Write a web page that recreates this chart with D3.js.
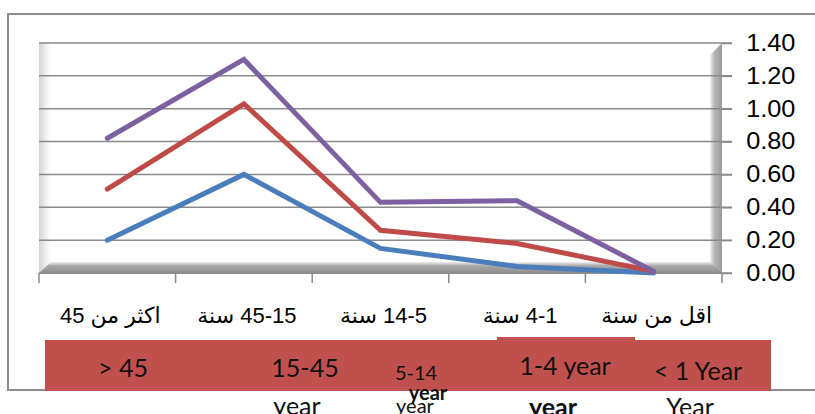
<!DOCTYPE html>
<html>
<head>
<meta charset="utf-8">
<script src="https://cdn.jsdelivr.net/npm/d3@7"></script>
<style>
  body { margin: 0; background: #fff; }
  svg { display: block; }
  .tickLabel { font-family: "Liberation Sans", Arial, sans-serif; font-size: 23px; fill: #000; }
  .catLabel { font-family: "Liberation Sans", "DejaVu Sans", sans-serif; font-size: 22px; fill: #000; }
  .boxLabel { font-family: Lato, "Open Sans", sans-serif; fill: #111; }
</style>
</head>
<body>
<div class="chart"></div>
<script>
var width = 815,
height = 414,
xLeft = 39,
xRight = 722,
yTop = 43,
yBottom = 273;

// categories (logical order, drawn right-to-left)
var categories = ["اكثر من 45", "45-15 سنة", "14-5 سنة", "4-1 سنة", "اقل من سنة"];
var blueSeries = [0.20, 0.60, 0.15, 0.04, 0.00];
var redSeries = [0.51, 1.03, 0.26, 0.18, 0.01];
var purpleSeries = [0.82, 1.30, 0.43, 0.44, 0.01];
var yTicks = [0, 0.2, 0.4, 0.6, 0.8, 1.0, 1.2, 1.4];
// english labels pasted on the red band
var boxLines1 = ["> 45", "15-45", "5-14", "1-4 year", "< 1 Year"];
var boxLines2 = ["", "year", "year", "year", "Year"];

var svg = d3.select('div.chart')
			.append('svg')
			.attr('width', width)
			.attr('height', height);

var defs = svg.append('defs');

function gradient(id, x2, y2, stops){
	var g = defs.append('linearGradient')
		.attr('id', id)
		.attr('x1', 0).attr('y1', 0)
		.attr('x2', x2).attr('y2', y2);
	stops.forEach(function(s){
		g.append('stop').attr('offset', s[0]).attr('stop-color', s[1]);
	});
}
gradient('leftWall', 1, 0, [[0, '#d4d4d4'], [0.5, '#ececec'], [1, '#ffffff']]);
gradient('rightWall', 1, 0, [[0, '#f4f4f4'], [0.35, '#b8b8b8'], [1, '#9a9a9a']]);
gradient('floor', 0, 1, [[0, '#f0f0f0'], [0.35, '#a8a8a8'], [1, '#8e8e8e']]);

var xScale = d3.scaleBand()
		.domain(d3.range(categories.length))
		.range([xLeft, xRight]);

var yScale = d3.scaleLinear()
		.domain([0, 1.4])
		.range([yBottom, yTop]);

/*
========== outer frame ==========
*/
svg.append('path')
	.attr('d', 'M' + width + ',14H8V390H46M771,390H' + width)
	.attr('fill', 'none')
	.attr('stroke', '#8c8c8c')
	.attr('stroke-width', 2);

/*
========== 3d walls ==========
*/
svg.append('rect')
	.attr('x', xLeft).attr('y', yTop)
	.attr('width', 12).attr('height', yBottom - yTop)
	.attr('fill', 'url(#leftWall)');

svg.append('path')
	.attr('d', 'M' + (xRight - 12) + ',' + (yTop + 12) + 'L' + xRight + ',' + yTop + 'V' + yBottom + 'H' + (xRight - 12) + 'Z')
	.attr('fill', 'url(#rightWall)');

svg.append('path')
	.attr('d', 'M' + (xLeft + 12) + ',' + (yBottom - 11) + 'H' + (xRight - 12) + 'L' + xRight + ',' + yBottom + 'H' + xLeft + 'Z')
	.attr('fill', 'url(#floor)');

/*
========== grid + y axis on the right ==========
*/
svg.append('g')
	.selectAll('line')
	.data(yTicks)
	.enter()
	.append('line')
	.attr('x1', xLeft)
	.attr('x2', xRight + 10)
	.attr('y1', function(d){ return yScale(d); })
	.attr('y2', function(d){ return yScale(d); })
	.attr('stroke', '#8a8a8a')
	.attr('stroke-width', 1.5);

var yAxis = svg.append('g')
	.attr('transform', 'translate(' + xRight + ',0)')
	.call(d3.axisRight(yScale)
			.tickValues(yTicks)
			.tickSize(10)
			.tickPadding(14)
			.tickFormat(d3.format('.2f')));

yAxis.select('.domain').remove();
yAxis.selectAll('.tick line').attr('stroke', '#8a8a8a').attr('stroke-width', 1.5);
yAxis.selectAll('.tick text')
	.attr('class', 'tickLabel')
	.attr('font-family', null)
	.attr('font-size', null)
	.attr('x', 22)
	.attr('transform', 'scale(1.1,1)');

/*
========== x axis ==========
*/
var xAxis = svg.append('g')
	.attr('transform', 'translate(0,' + yBottom + ')');

xAxis.append('line')
	.attr('x1', xLeft).attr('x2', xRight)
	.attr('stroke', '#8a8a8a')
	.attr('stroke-width', 1.5);

xAxis.selectAll('line.tick')
	.data(d3.range(categories.length + 1))
	.enter()
	.append('line')
	.attr('class', 'tick')
	.attr('x1', function(d){ return xLeft + d * xScale.bandwidth(); })
	.attr('x2', function(d){ return xLeft + d * xScale.bandwidth(); })
	.attr('y1', 0)
	.attr('y2', 10)
	.attr('stroke', '#8a8a8a')
	.attr('stroke-width', 1.5);

xAxis.selectAll('text.catLabel')
	.data(categories)
	.enter()
	.append('text')
	.attr('class', 'catLabel')
	.attr('direction', 'rtl')
	.attr('text-anchor', 'middle')
	.attr('x', function(d, i){ return xScale(i) + xScale.bandwidth() / 2 + 3; })
	.attr('y', 50)
	.text(function(d){ return d; });

// wrapped second line of the first category, mostly hidden by the band
xAxis.append('text')
	.attr('class', 'catLabel')
	.attr('direction', 'rtl')
	.attr('text-anchor', 'middle')
	.attr('x', xScale(0) + xScale.bandwidth() / 2 + 4)
	.attr('y', 79)
	.text('سنة');

/*
========== lines ==========
*/
var line = d3.line()
	.x(function(d, i){ return xScale(i) + xScale.bandwidth() / 2; })
	.y(function(d){ return yScale(d); });

var seriesList = [
	{ values: blueSeries, color: '#4a7ebb' },
	{ values: redSeries, color: '#be4b48' },
	{ values: purpleSeries, color: '#7d60a0' }
];

svg.append('g')
	.selectAll('path')
	.data(seriesList)
	.enter()
	.append('path')
	.attr('d', function(d){ return line(d.values); })
	.attr('fill', 'none')
	.attr('stroke', function(d){ return d.color; })
	.attr('stroke-width', 5)
	.attr('stroke-linecap', 'round')
	.attr('stroke-linejoin', 'miter');

/*
========== red band with english labels ==========
*/
var band = svg.append('g');
band.append('rect')
	.attr('x', 45).attr('y', 340)
	.attr('width', 771 - 45).attr('height', 51)
	.attr('fill', '#c0504d');
band.append('rect')
	.attr('x', 497).attr('y', 337)
	.attr('width', 138).attr('height', 10)
	.attr('fill', '#c0504d');

var boxX = [123, 305, 416, 565, 698];
var boxY1 = [377, 377, 380, 375, 380];
var boxSize1 = [25, 25, 20, 25, 25];
var boxX2 = [0, 297, 428, 553, 690];
var boxY2 = [0, 415, 400, 416, 416];

band.selectAll('text.line1')
	.data(boxLines1)
	.enter()
	.append('text')
	.attr('class', 'boxLabel line1')
	.attr('text-anchor', 'middle')
	.attr('x', function(d, i){ return boxX[i]; })
	.attr('y', function(d, i){ return boxY1[i]; })
	.attr('font-size', function(d, i){ return boxSize1[i]; })
	.text(function(d){ return d; });

band.selectAll('text.line2')
	.data(boxLines2)
	.enter()
	.append('text')
	.attr('class', 'boxLabel line2')
	.attr('text-anchor', 'middle')
	.attr('x', function(d, i){ return boxX2[i]; })
	.attr('y', function(d, i){ return boxY2[i]; })
	.attr('font-size', function(d, i){ return i == 2 ? 20 : 25; })
	.attr('font-weight', function(d, i){ return (i == 2 || i == 3) ? 'bold' : 'normal'; })
	.text(function(d){ return d; });

// second, overlapping "year" under 5-14
band.append('text')
	.attr('class', 'boxLabel')
	.attr('text-anchor', 'middle')
	.attr('x', 415)
	.attr('y', 413)
	.attr('font-size', 20)
	.text(boxLines2[2]);
</script>
</body>
</html>
